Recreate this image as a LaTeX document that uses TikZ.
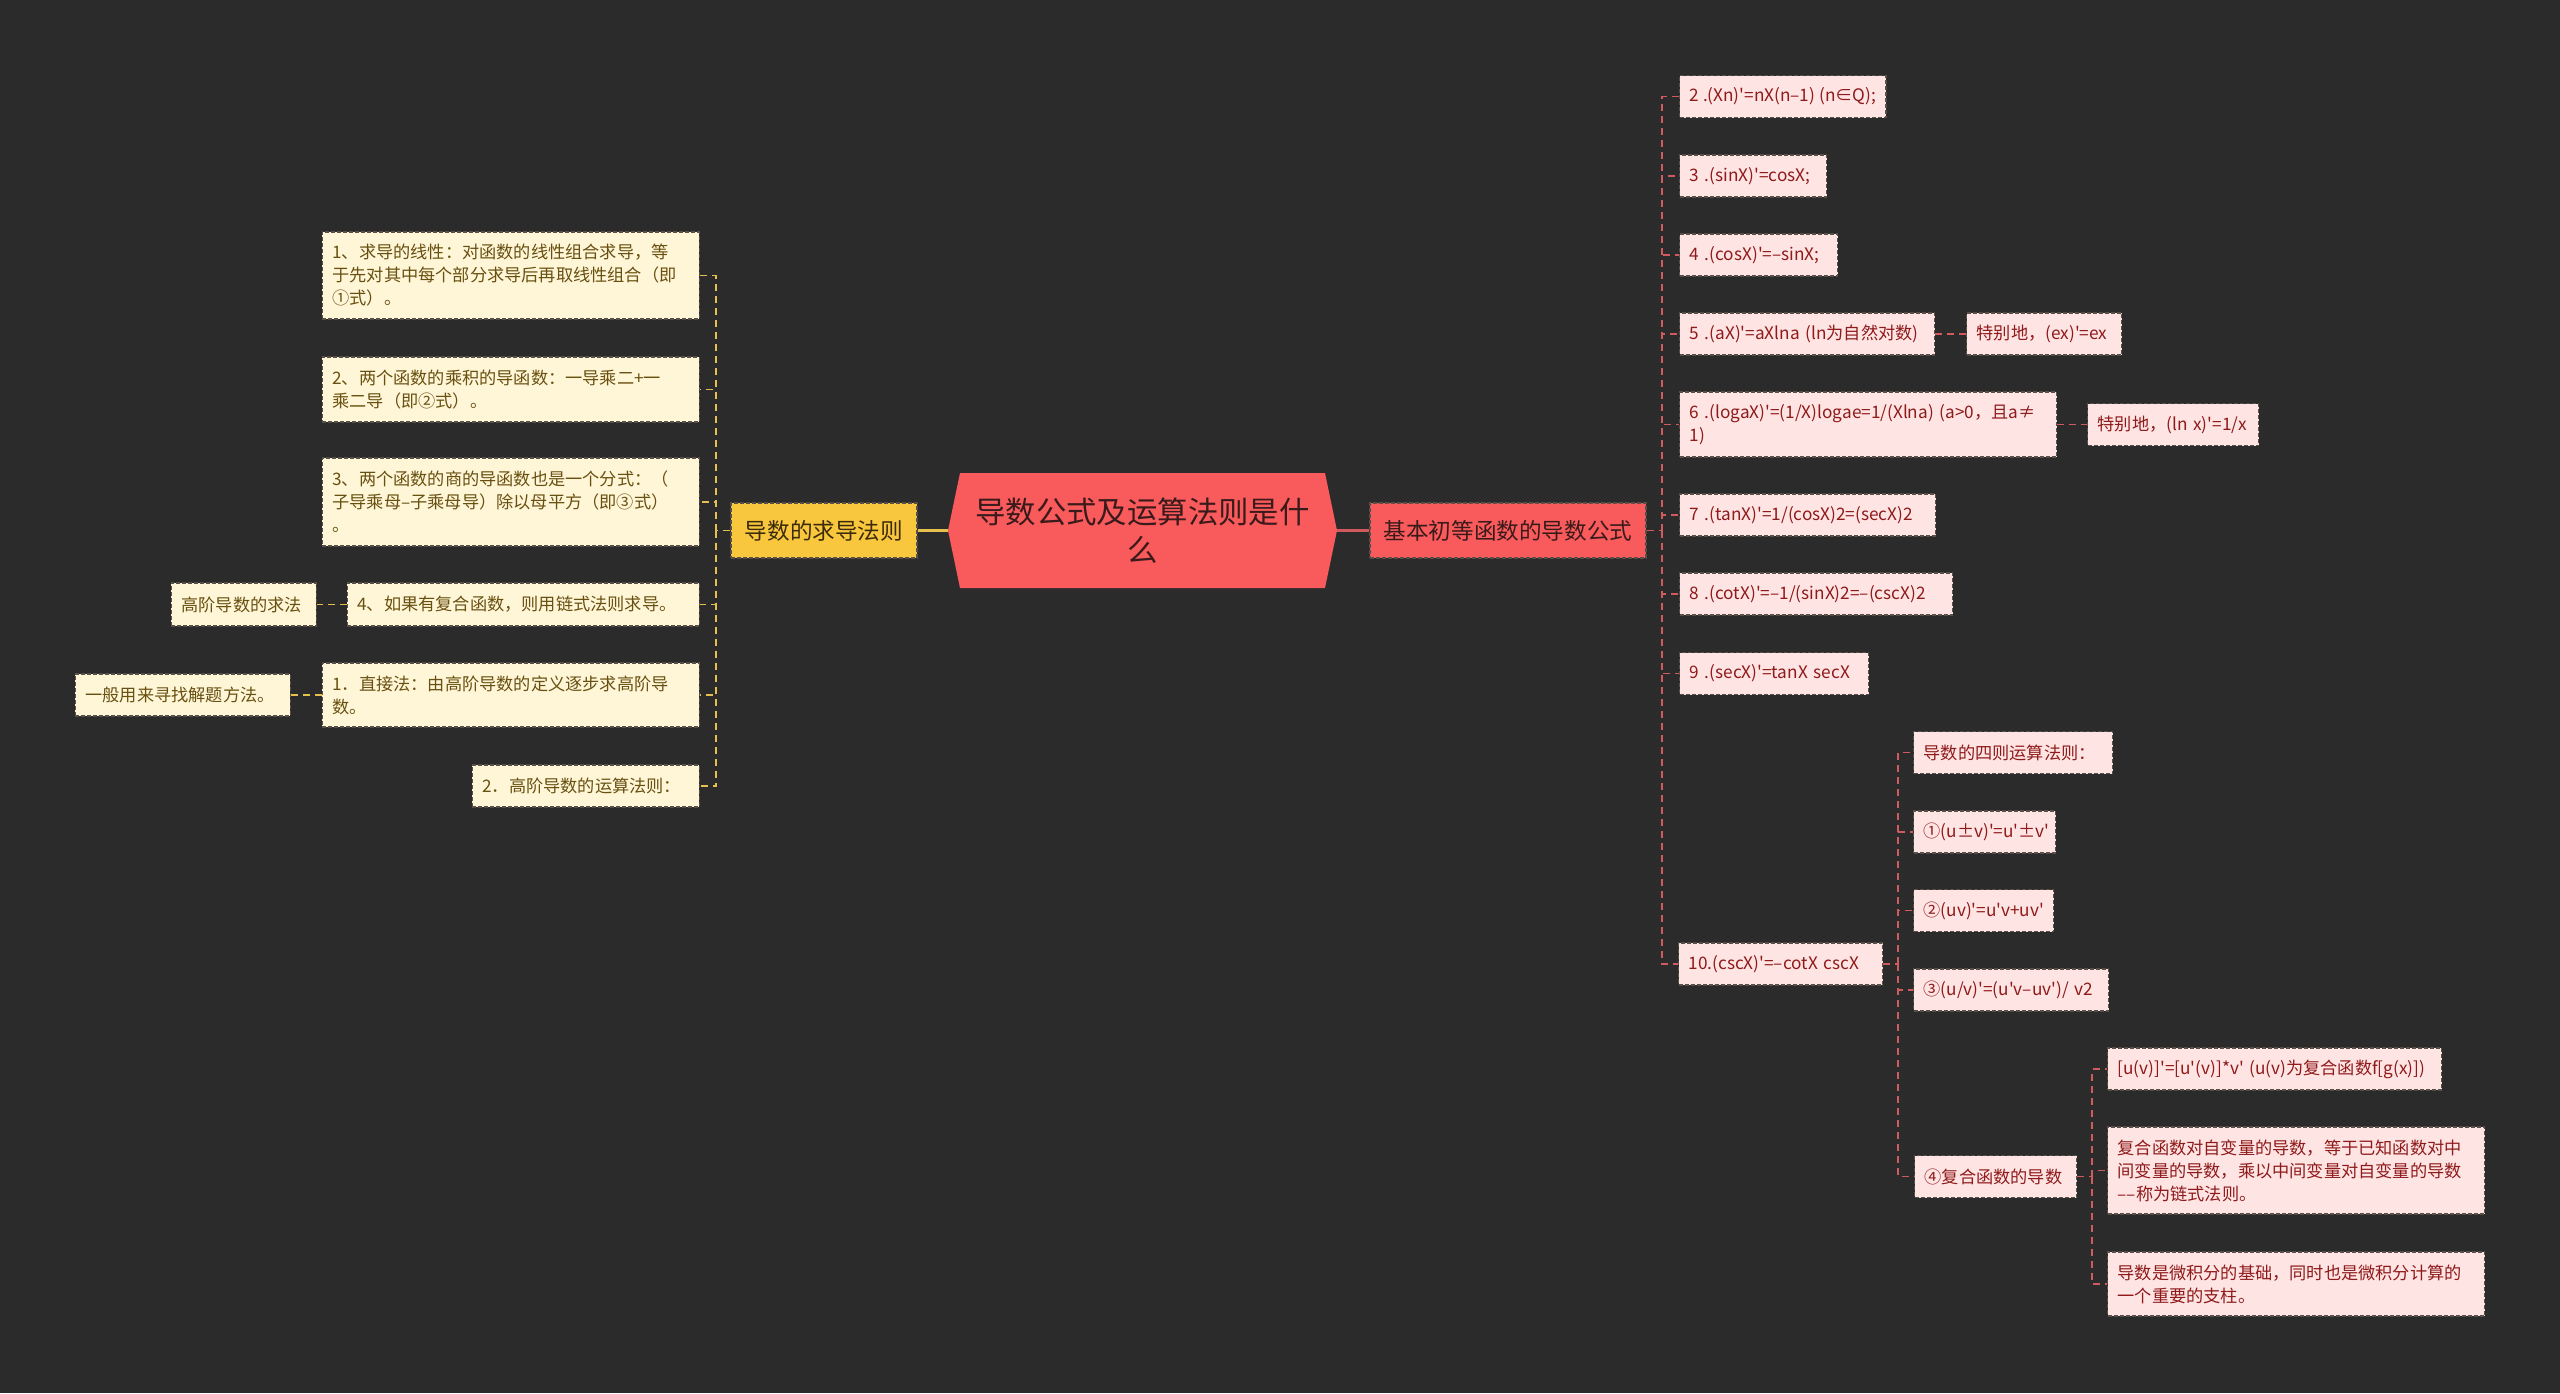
\documentclass[tikz,border=0pt]{standalone}
\usepackage{fontspec}
\setmainfont{Noto Sans CJK SC}[Ligatures=TeXOff]
\usepackage{tikz}
\definecolor{bgcol}{RGB}{43,43,43}
\definecolor{rootcol}{RGB}{249,90,92}
\definecolor{roottxt}{RGB}{58,26,26}
\definecolor{goldcol}{RGB}{249,199,61}
\definecolor{goldtxt}{RGB}{59,43,11}
\definecolor{creamcol}{RGB}{255,246,216}
\definecolor{creamtxt}{RGB}{104,80,16}
\definecolor{pinkcol}{RGB}{255,228,228}
\definecolor{pinktxt}{RGB}{143,26,26}
\definecolor{goldline}{RGB}{230,192,79}
\definecolor{redline}{RGB}{208,90,94}
\definecolor{edgecol}{RGB}{88,80,72}

\begin{document}
\begin{tikzpicture}[x=0.5pt,y=-0.5pt,
  note/.style={draw=edgecol,dash pattern=on 2pt off 1pt,line width=0.6pt,
    font=\fontsize{8.6pt}{11.5pt}\selectfont,align=left,
    inner xsep=5pt,inner ysep=2pt,minimum height=21pt},
  lnote/.style={note,anchor=east,fill=creamcol,text=creamtxt},
  rnote/.style={note,anchor=west,fill=pinkcol,text=pinktxt},
  wrapbox/.style={text width=178.5pt},
  branch/.style={draw=edgecol,dash pattern=on 2pt off 1pt,line width=0.6pt,
    font=\fontsize{11.3pt}{14pt}\selectfont,minimum height=27.5pt,inner xsep=5pt},
  lline/.style={goldline,line width=0.9pt,dash pattern=on 3.5pt off 2.5pt},
  rline/.style={redline,line width=0.9pt,dash pattern=on 3.5pt off 2.5pt}]
\useasboundingbox (0,0) rectangle (2560,1393);
\fill[bgcol] (0,0) rectangle (2560,1393);

\fill[rootcol] (948,530.5) -- (960,473) -- (1325,473) -- (1337,530.5) -- (1325,588) -- (960,588) -- cycle;
\node[minimum width=194.5pt,minimum height=57.5pt,align=center,text=roottxt,
  font=\fontsize{15.2pt}{19pt}\selectfont] (c) at (1142.5,530.5) {导数公式及运算法则是什\\么};

\node[branch,fill=goldcol,text=goldtxt,minimum width=93pt] (y) at (824,530.5) {导数的求导法则};
\node[branch,fill=rootcol,text=roottxt,minimum width=138pt] (r) at (1508,530.5) {基本初等函数的导数公式};

\node[lnote,wrapbox,minimum height=43.5pt] (l1) at (700,275.5) {1、求导的线性：对函数的线性组合求导，等\\于先对其中每个部分求导后再取线性组合（即\\①式）。};
\node[lnote,wrapbox,minimum height=32.5pt] (l2) at (700,389.5) {2、两个函数的乘积的导函数：一导乘二+一\\乘二导（即②式）。};
\node[lnote,wrapbox,minimum height=44pt] (l3) at (700,502) {3、两个函数的商的导函数也是一个分式：（\\子导乘母–子乘母导）除以母平方（即③式）\\。};
\node[lnote,text width=166pt,minimum height=21.5pt] (l4) at (700,604.5) {4、如果有复合函数，则用链式法则求导。};
\node[lnote,text width=62.5pt,minimum height=21.5pt] (l4a) at (317,604.5) {高阶导数的求法};
\node[lnote,wrapbox,minimum height=32pt] (l5) at (700,695) {1．直接法：由高阶导数的定义逐步求高阶导\\数。};
\node[lnote,text width=97.5pt] (l5a) at (291,695) {一般用来寻找解题方法。};
\node[lnote,text width=103.5pt] (l6) at (700,786) {2．高阶导数的运算法则：};

\node[rnote] (r2) at (1679,96.5) {2 .(Xn)'=nX(n–1) (n∈Q);};
\node[rnote,text width=63.5pt] (r3) at (1679,176) {3 .(sinX)'=cosX;};
\node[rnote,text width=69pt] (r4) at (1679,255) {4 .(cosX)'=–sinX;};
\node[rnote,text width=117.5pt] (r5) at (1679,334) {5 .(aX)'=aXlna (ln为自然对数)};
\node[rnote,text width=67.5pt] (r5a) at (1966,334) {特别地，(ex)'=ex};
\node[rnote,wrapbox,minimum height=32.5pt] (r6) at (1679,424.5) {6~.(logaX)'=(1/X)logae=1/(Xlna)~(a>0，且a≠\\1)};
\node[rnote,text width=75.5pt] (r6a) at (2087,424.5) {特别地，(ln x)'=1/x};
\node[rnote,text width=118pt] (r7) at (1679,515) {7 .(tanX)'=1/(cosX)2=(secX)2};
\node[rnote,text width=126.5pt] (r8) at (1679,594) {8 .(cotX)'=–1/(sinX)2=–(cscX)2};
\node[rnote,text width=84.5pt] (r9) at (1679,673.5) {9 .(secX)'=tanX secX};
\node[rnote,text width=92pt] (r10) at (1678,964) {10.(cscX)'=–cotX cscX};

\node[rnote,text width=89.5pt] (s1) at (1913,752.5) {导数的四则运算法则：};
\node[rnote,text width=61pt] (s2) at (1913,832) {①(u±v)'=u'±v'};
\node[rnote,text width=60pt] (s3) at (1913,910.5) {②(uv)'=u'v+uv'};
\node[rnote,text width=87.5pt] (s4) at (1913,990) {③(u/v)'=(u'v–uv')/~v2};
\node[rnote,text width=71pt] (s5) at (1914,1176.5) {④复合函数的导数};

\node[rnote,text width=157pt] (t1) at (2107,1069) {[u(v)]'=[u'(v)]*v' (u(v)为复合函数f[g(x)])};
\node[rnote,wrapbox,minimum height=43.5pt] (t2) at (2107,1170.5) {复合函数对自变量的导数，等于已知函数对中\\间变量的导数，乘以中间变量对自变量的导数\\––称为链式法则。};
\node[rnote,wrapbox,minimum height=32pt] (t3) at (2107,1284) {导数是微积分的基础，同时也是微积分计算的\\一个重要的支柱。};

\draw[goldline,line width=1.5pt] (c.west) -- (y.east);
\draw[redline,line width=1.5pt] (c.east) -- (r.west);

\coordinate (lsp) at (716,530.5);
\draw[lline] (y.west) -- (lsp);
\foreach \n in {l1,l2,l3,l4,l5,l6}
  \draw[lline] (lsp) |- (\n.east);
\draw[lline] (l4.west) -- (l4a.east);
\draw[lline] (l5.west) -- (l5a.east);

\coordinate (rsp) at (1662,530.5);
\draw[rline] (r.east) -- (rsp);
\foreach \n in {r2,r3,r4,r5,r6,r7,r8,r9,r10}
  \draw[rline] (rsp) |- (\n.west);
\draw[rline] (r5.east) -- (r5a.west);
\draw[rline] (r6.east) -- (r6a.west);

\coordinate (ssp) at (1898,964);
\draw[rline] (r10.east) -- (ssp);
\foreach \n in {s1,s2,s3,s4,s5}
  \draw[rline] (ssp) |- (\n.west);

\coordinate (tsp) at (2092,1176.5);
\draw[rline] (s5.east) -- (tsp);
\foreach \n in {t1,t2,t3}
  \draw[rline] (tsp) |- (\n.west);
\end{tikzpicture}
\end{document}
